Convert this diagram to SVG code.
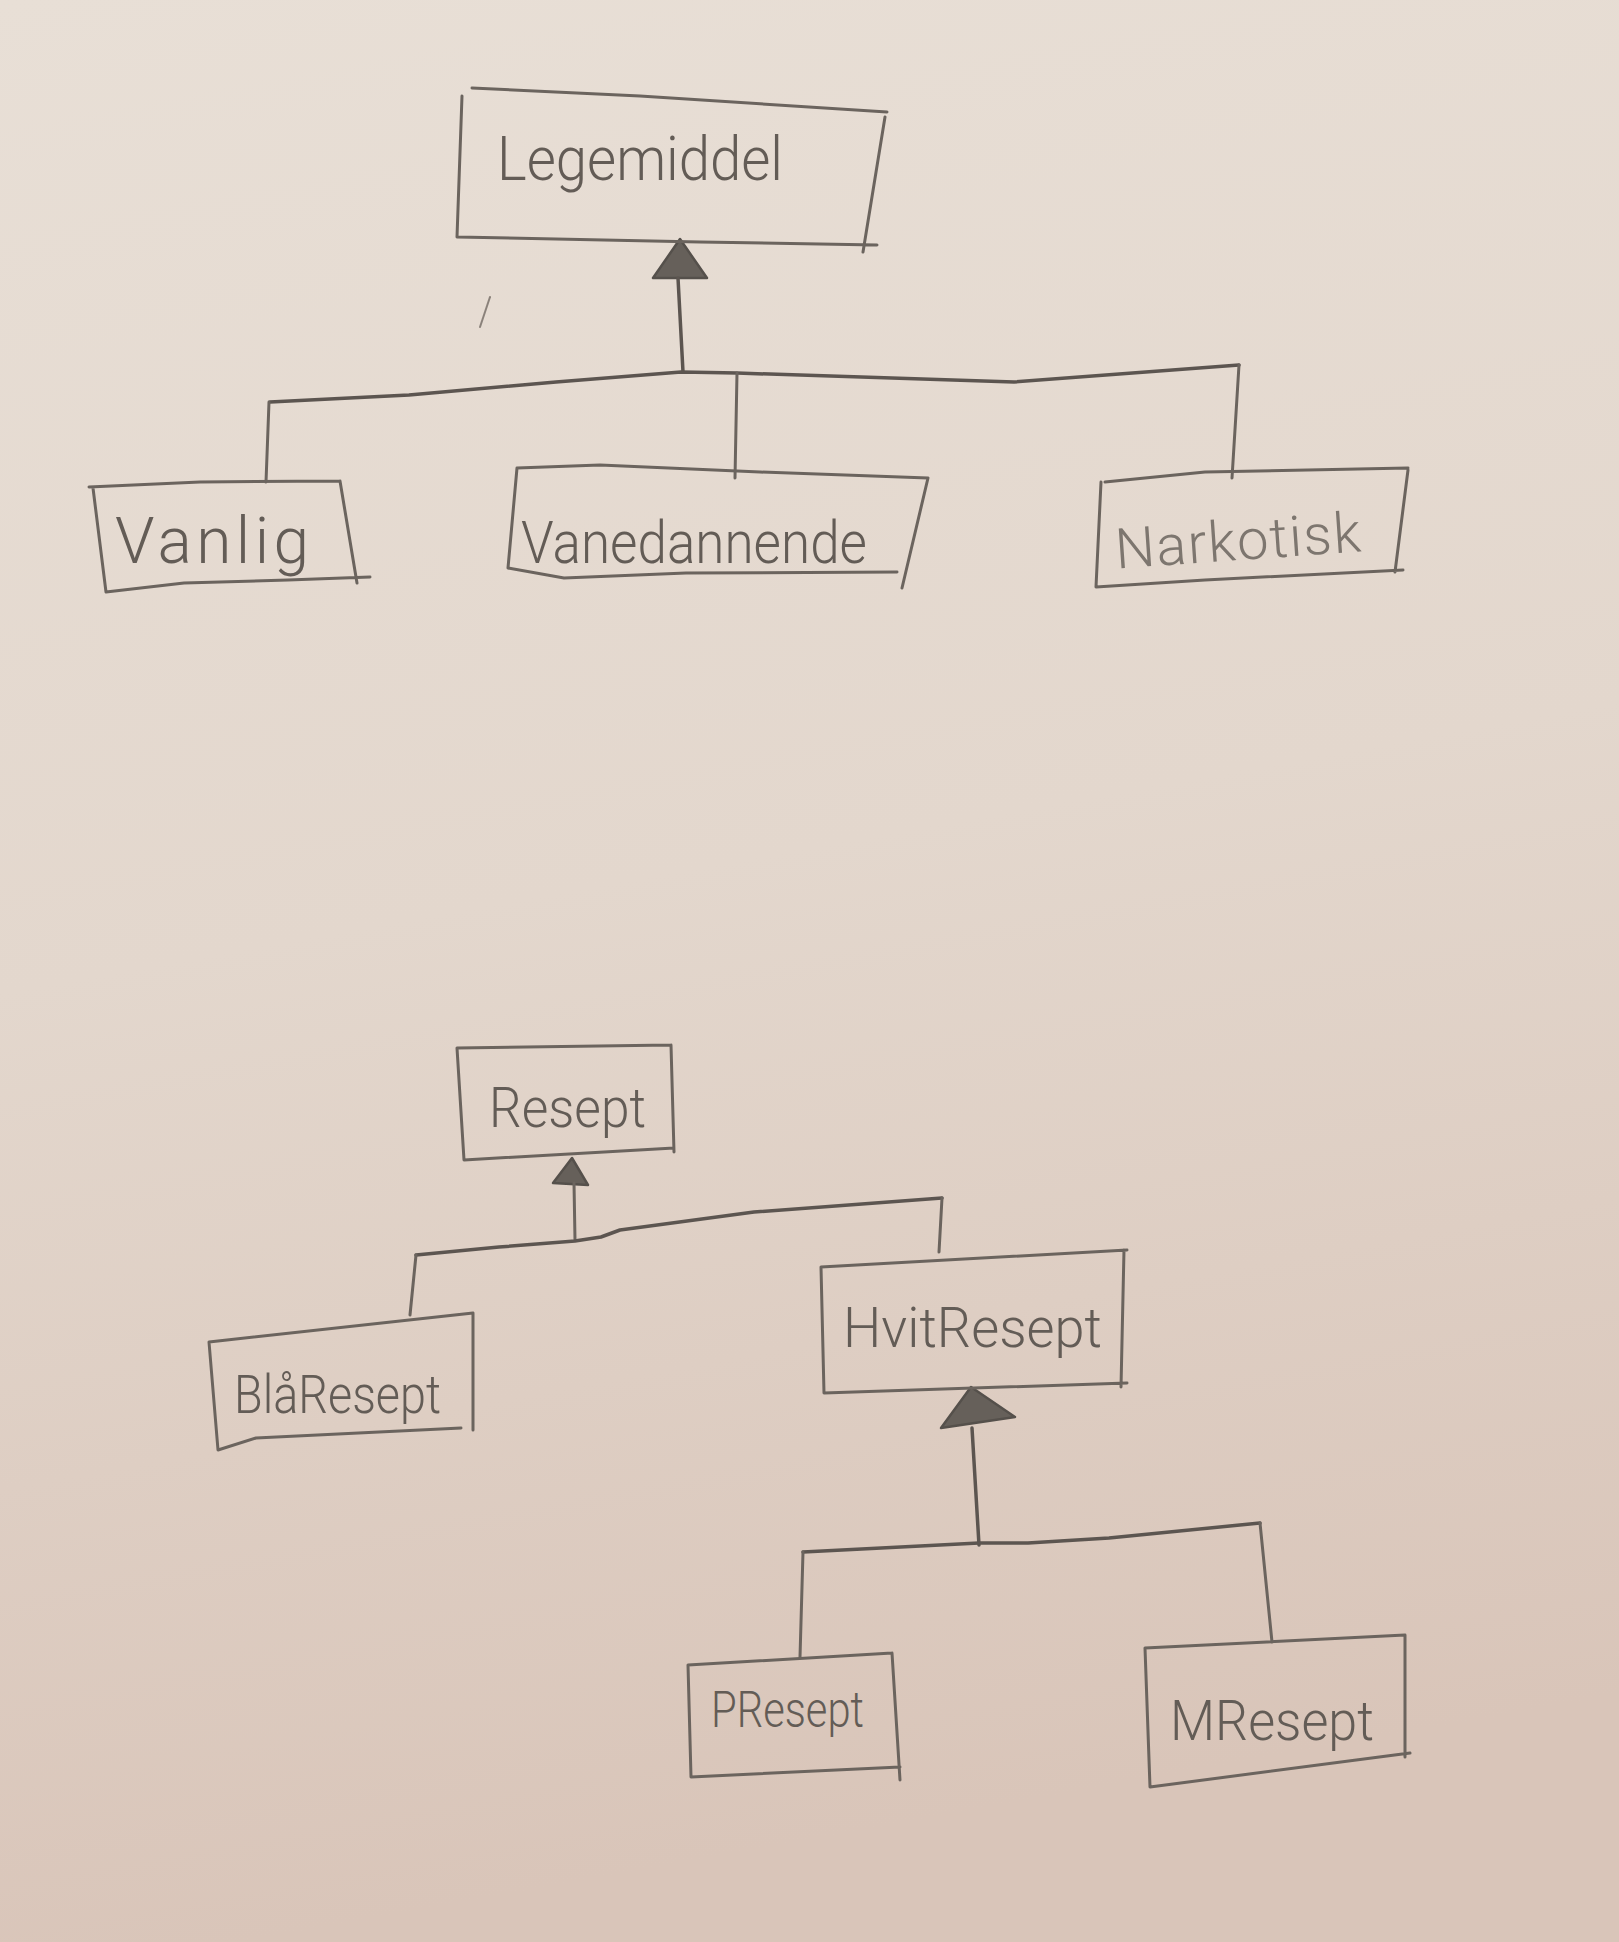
<svg xmlns="http://www.w3.org/2000/svg" width="1619" height="1942" viewBox="0 0 1619 1942">
<defs>
<linearGradient id="paper" x1="0" y1="0" x2="0.15" y2="1">
<stop offset="0" stop-color="#e8dfd6"/>
<stop offset="0.5" stop-color="#e3d7cd"/>
<stop offset="1" stop-color="#d9c5b9"/>
</linearGradient>
<style>
.box{fill:none;stroke:#6b645e;stroke-width:3;stroke-linecap:round;stroke-linejoin:round}
.lbl{font-family:Roboto,"Liberation Sans","DejaVu Sans",sans-serif;fill:#635c56;font-weight:300}
.con{fill:none;stroke:#5c5550;stroke-width:3.5;stroke-linecap:round;stroke-linejoin:round}
.thin{fill:none;stroke:#6b645e;stroke-width:3;stroke-linecap:round;stroke-linejoin:round}
.tri{fill:#66605a;stroke:#55504b;stroke-width:2.5;stroke-linejoin:round}
.stray{fill:none;stroke:#8a817a;stroke-width:2;stroke-linecap:round}
</style>
</defs>
<rect x="0" y="0" width="1619" height="1942" fill="url(#paper)"/>

<g id="connectors">
<path class="stray" d="M490,297 L480,327"/>
<path class="tri" d="M680,239 L653,278 L707,278 Z"/>
<path class="con" d="M678,278 L683,372"/>
<path class="con" d="M270,402 L409,395 L556,382 L681,372 L737,373 L1014,382 L1239,365"/>
<path class="thin" d="M269,402 L266,482"/>
<path class="thin" d="M737,373 L735,478"/>
<path class="thin" d="M1239,365 L1232,478"/>
<path class="tri" d="M572,1158 L553,1183 L588,1185 Z"/>
<path class="thin" d="M574,1183 L575,1240"/>
<path class="con" d="M416,1255 L499,1247 L575,1241 L601,1237 L620,1230 L754,1212 L942,1198"/>
<path class="thin" d="M416,1255 L410,1315"/>
<path class="thin" d="M942,1198 L939,1252"/>
<path class="tri" d="M971,1387 L941,1428 L1015,1417 Z"/>
<path class="con" d="M972,1428 L979,1545"/>
<path class="con" d="M803,1552 L979,1543 L1028,1543 L1109,1538 L1260,1523"/>
<path class="thin" d="M803,1552 L800,1657"/>
<path class="thin" d="M1260,1523 L1272,1642"/>
</g>

<g id="node-legemiddel">
<path class="box" d="M472,88 L640,96 L887,112 M885,117 L863,252 M462,96 L457,237 L700,242 L877,245"/>
<text class="lbl" x="497" y="180" font-size="62" textLength="286" lengthAdjust="spacingAndGlyphs">Legemiddel</text>
</g>

<g id="node-vanlig">
<path class="box" d="M89,487 L200,482 L340,481 M340,481 L357,583 M93,488 L106,592 L184,583 L288,580 L370,577"/>
<text class="lbl" x="115" y="563" font-size="64" textLength="194" lengthAdjust="spacing">Vanlig</text>
</g>

<g id="node-vanedannende">
<path class="box" d="M517,468 L600,465 L760,472 L928,478 M928,478 L902,588 M517,468 L508,568 L564,578 L686,573 L897,572"/>
<text class="lbl" x="521" y="563" font-size="60" textLength="346" lengthAdjust="spacingAndGlyphs">Vanedannende</text>
</g>

<g id="node-narkotisk">
<path class="box" d="M1105,482 L1205,472 L1408,468 M1408,470 L1395,572 M1101,482 L1096,587 L1205,580 L1403,570"/>
<text class="lbl" x="1114" y="560" font-size="56" textLength="246" lengthAdjust="spacing" transform="rotate(-4 1237 530)" fill-opacity="0.8">Narkotisk</text>
</g>

<g id="node-resept">
<path class="box" d="M457,1048 L671,1045 M671,1045 L674,1152 M457,1048 L464,1160 L674,1148"/>
<text class="lbl" x="489" y="1127" font-size="56" textLength="157" lengthAdjust="spacingAndGlyphs">Resept</text>
</g>

<g id="node-blaresept">
<path class="box" d="M209,1342 L473,1313 M473,1313 L473,1430 M209,1342 L218,1450 L256,1438 L461,1428"/>
<text class="lbl" x="234" y="1413" font-size="54" textLength="207" lengthAdjust="spacingAndGlyphs">BlåResept</text>
</g>

<g id="node-hvitresept">
<path class="box" d="M821,1267 L1127,1250 M1124,1250 L1121,1387 M821,1267 L824,1393 L1127,1383"/>
<text class="lbl" x="843" y="1347" font-size="56" textLength="259" lengthAdjust="spacingAndGlyphs">HvitResept</text>
</g>

<g id="node-presept">
<path class="box" d="M688,1665 L892,1653 M892,1653 L900,1780 M688,1665 L691,1777 L900,1767"/>
<text class="lbl" x="711" y="1727" font-size="50" textLength="153" lengthAdjust="spacingAndGlyphs">PResept</text>
</g>

<g id="node-mresept">
<path class="box" d="M1145,1648 L1405,1635 M1405,1635 L1405,1757 M1145,1648 L1150,1787 L1410,1753"/>
<text class="lbl" x="1170" y="1740" font-size="56" textLength="204" lengthAdjust="spacingAndGlyphs">MResept</text>
</g>
</svg>
